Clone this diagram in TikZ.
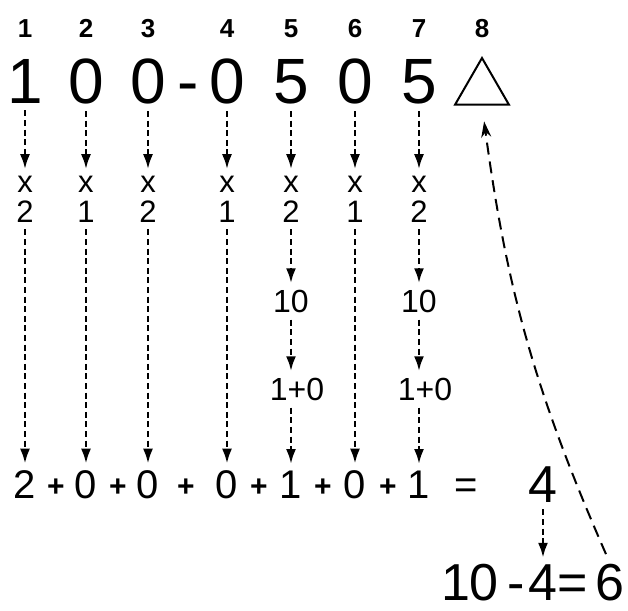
\documentclass[tikz,border=0pt]{standalone}
\usepackage{fontspec}
\setmainfont{Liberation Sans}
\usetikzlibrary{arrows.meta, shapes.geometric}

\begin{document}
\begin{tikzpicture}[x=0.5pt, y=-0.5pt,
  idx/.style={font=\fontsize{13}{14}\selectfont\bfseries, inner sep=0pt, anchor=base},
  big/.style={font=\fontsize{32}{34}\selectfont, inner sep=0pt, anchor=base},
  mul/.style={font=\fontsize{15.5}{16}\selectfont, inner sep=0pt, anchor=base},
  part/.style={font=\fontsize{16}{17}\selectfont, inner sep=0pt, anchor=base},
  term/.style={font=\fontsize{20}{21}\selectfont, inner sep=0pt, anchor=base},
  plus/.style={font=\fontsize{15}{16}\selectfont\bfseries, inner sep=0pt, anchor=base},
  res/.style={font=\fontsize{26}{28}\selectfont, inner sep=0pt, anchor=base},
  arw/.style={-{Latex[length=7.5pt, width=5pt]}, line width=1.3pt,
    dash pattern=on 3pt off 1.8pt, shorten <=3.5pt, shorten >=3pt},
]
\useasboundingbox (0,0) rectangle (628,611);

% position numbers
\node[idx] (p1) at (25,37) {1};
\node[idx] (p2) at (86,37) {2};
\node[idx] (p3) at (148,37) {3};
\node[idx] (p4) at (227,37) {4};
\node[idx] (p5) at (291,37) {5};
\node[idx] (p6) at (355,37) {6};
\node[idx] (p7) at (419,37) {7};
\node[idx] (p8) at (482,37) {8};

% the code number
\node[big] (d1) at (25,103) {1};
\node[big] (d2) at (86,103) {0};
\node[big] (d3) at (148,103) {0};
\node[big] (dsh) at (188,103) {-};
\node[big] (d4) at (227,103) {0};
\node[big] (d5) at (291,103) {5};
\node[big] (d6) at (355,103) {0};
\node[big] (d7) at (419,103) {5};
\node[draw, regular polygon, regular polygon sides=3, minimum size=31pt,
  inner sep=0pt, line width=1pt] (tri) at (482,89) {};

% weights
\node[mul] (x1) at (25,192) {x};
\node[mul] (x2) at (86,192) {x};
\node[mul] (x3) at (148,192) {x};
\node[mul] (x4) at (227,192) {x};
\node[mul] (x5) at (291,192) {x};
\node[mul] (x6) at (355,192) {x};
\node[mul] (x7) at (419,192) {x};
\node[mul] (f1) at (25,222) {2};
\node[mul] (f2) at (86,222) {1};
\node[mul] (f3) at (148,222) {2};
\node[mul] (f4) at (227,222) {1};
\node[mul] (f5) at (291,222) {2};
\node[mul] (f6) at (355,222) {1};
\node[mul] (f7) at (419,222) {2};

% products over 9
\node[part] (t5) at (291,312) {10};
\node[part] (t7) at (419,312) {10};
\node[part] (s5) at (297,400) {1+0};
\node[part] (s7) at (425,400) {1+0};

% sum row
\node[term] (b1) at (25,498) {2};
\node[plus] (pl1) at (56,496) {+};
\node[term] (b2) at (86,498) {0};
\node[plus] (pl2) at (118,496) {+};
\node[term] (b3) at (148,498) {0};
\node[plus] (pl3) at (186,496) {+};
\node[term] (b4) at (227,498) {0};
\node[plus] (pl4) at (259,496) {+};
\node[term] (b5) at (291,498) {1};
\node[plus] (pl5) at (323,496) {+};
\node[term] (b6) at (355,498) {0};
\node[plus] (pl6) at (388,496) {+};
\node[term] (b7) at (419,498) {1};
\node[term] (eq) at (466,498) {=};
\node[res] (sum) at (543,502) {4};

% check digit
\node[res] (ten) at (470,600) {10};
\node[res] (minus) at (516,600) {-};
\node[res] (four) at (543,600) {4};
\node[res] (eq2) at (573,600) {=};
\node[res] (six) at (610,600) {6};

\draw[arw] (d1.south) -- (x1.north);
\draw[arw] (d2.south) -- (x2.north);
\draw[arw] (d3.south) -- (x3.north);
\draw[arw] (d4.south) -- (x4.north);
\draw[arw] (d5.south) -- (x5.north);
\draw[arw] (d6.south) -- (x6.north);
\draw[arw] (d7.south) -- (x7.north);

\draw[arw] (f1.south) -- (b1.north);
\draw[arw] (f2.south) -- (b2.north);
\draw[arw] (f3.south) -- (b3.north);
\draw[arw] (f4.south) -- (b4.north);
\draw[arw] (f6.south) -- (b6.north);

\draw[arw] (f5.south) -- (t5.north);
\draw[arw] (t5.south) -- (t5.south |- s5.north);
\draw[arw] (t5.south |- s5.south) -- (b5.north);
\draw[arw] (f7.south) -- (t7.north);
\draw[arw] (t7.south) -- (t7.south |- s7.north);
\draw[arw] (t7.south |- s7.south) -- (b7.north);

\draw[arw] (sum.south) -- (four.north);

% back to the empty place
\draw[-{Stealth[length=8pt, width=5pt]}, line width=1pt, dash pattern=on 6pt off 3.5pt,
  shorten <=5pt, shorten >=8pt] (six.north) to[bend left=8] (tri.south);
\end{tikzpicture}
\end{document}
